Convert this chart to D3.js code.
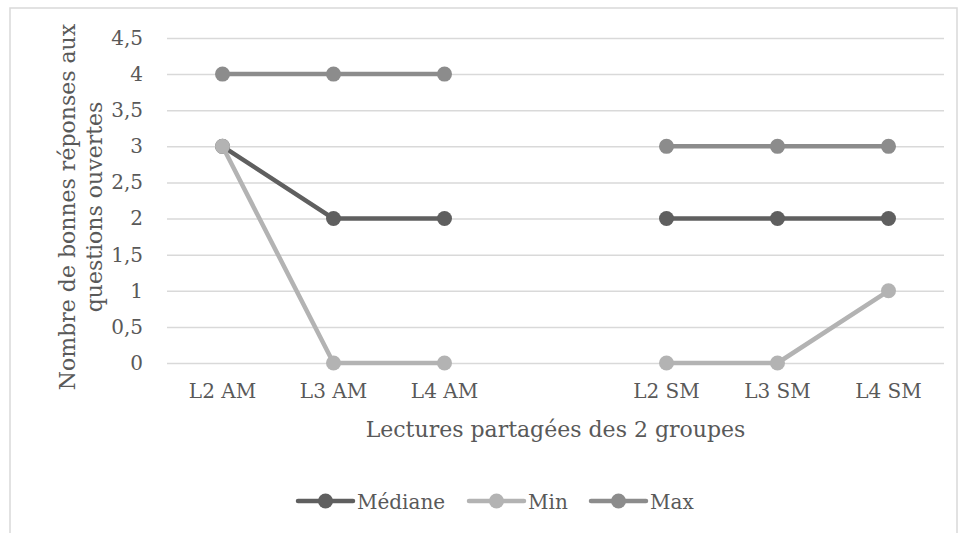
<!DOCTYPE html>
<html><head><meta charset="utf-8">
<script src="https://cdn.jsdelivr.net/npm/d3@7"></script>
<style>body{margin:0;background:#fff}svg{display:block}text{font-family:"DejaVu Serif","Liberation Serif",serif;fill:#595959}</style>
</head><body><svg id="c" width="960" height="533"></svg>
<script>
const categories = ["L2 AM","L3 AM","L4 AM","","L2 SM","L3 SM","L4 SM"];
const mediane = [3,2,2,null,2,2,2];
const minVals = [3,0,0,null,0,0,1];
const maxVals = [4,4,4,null,3,3,3];
const yTicks = [0,0.5,1,1.5,2,2.5,3,3.5,4,4.5];
const seriesNames = ["Médiane","Min","Max"];
const seriesColors = ["#5f5f5f","#b3b3b3","#8c8c8c"];

const svg = d3.select("#c");
svg.append("rect").attr("x",10).attr("y",8).attr("width",947).attr("height",540)
  .attr("fill","#fff").attr("stroke","#d9d9d9").attr("stroke-width",1.5);

const x = d3.scaleBand().domain(d3.range(categories.length)).range([167,944]);
const y = d3.scaleLinear().domain([0,4.5]).range([363,38]);
const fs = 20;

const gy = svg.append("g").attr("transform","translate(167,0)")
  .call(d3.axisLeft(y).tickValues(yTicks).tickSize(-777).tickPadding(24)
    .tickFormat(d=>String(d).replace(".",",")));
gy.select(".domain").remove();
gy.selectAll("line").attr("stroke","#d9d9d9").attr("stroke-width",1.5);
gy.selectAll("text").attr("font-size",fs).attr("fill","#595959");

const gx = svg.append("g").attr("transform","translate(0,363)")
  .call(d3.axisBottom(x).tickSize(0).tickPadding(21).tickFormat(i=>categories[i]));
gx.select(".domain").remove();
gx.selectAll("text").attr("font-size",fs).attr("fill","#595959");

const data = [mediane,minVals,maxVals];
const order = [2,0,1];
const line = d3.line().defined(d=>d!=null).x((d,i)=>x(i)+x.bandwidth()/2).y(d=>y(d));
order.forEach(k=>{
  const vals = data[k];
  svg.append("path").datum(vals).attr("d",line).attr("fill","none")
    .attr("stroke",seriesColors[k]).attr("stroke-width",4.5).attr("stroke-linejoin","round");
  svg.append("g").selectAll("circle").data(vals.map((v,i)=>({v,i})).filter(d=>d.v!=null))
    .join("circle").attr("cx",d=>x(d.i)+x.bandwidth()/2).attr("cy",d=>y(d.v)).attr("r",7.5)
    .attr("fill",seriesColors[k]);
});

svg.append("text").attr("x",555.5).attr("y",437).attr("text-anchor","middle")
  .attr("font-size",22).text("Lectures partagées des 2 groupes");

const yt = svg.append("text").attr("transform","translate(75,207) rotate(-90)")
  .attr("text-anchor","middle").attr("font-size",22);
yt.append("tspan").attr("x",0).attr("dy",0).text("Nombre de bonnes réponses aux");
yt.append("tspan").attr("x",0).attr("dy",27).text("questions ouvertes");

const legX = [298,469,591];
seriesNames.forEach((n,k)=>{
  const g = svg.append("g").attr("transform",`translate(${legX[k]},501)`);
  g.append("line").attr("x1",0).attr("x2",55).attr("stroke",seriesColors[k]).attr("stroke-width",4.5).attr("stroke-linecap","round");
  g.append("circle").attr("cx",27.5).attr("r",7.5).attr("fill",seriesColors[k]);
  g.append("text").attr("x",59).attr("y",8).attr("font-size",20).text(n);
});
</script></body></html>
